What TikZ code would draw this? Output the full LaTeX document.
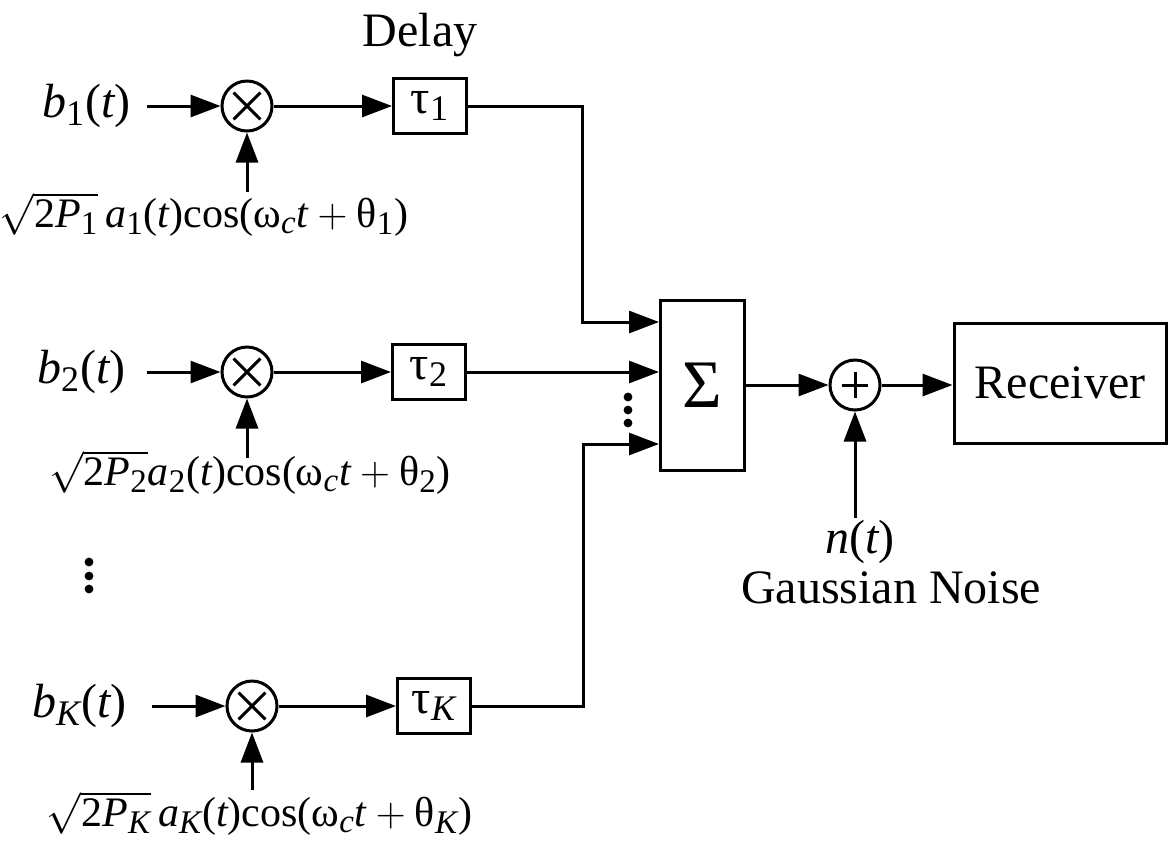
\documentclass[tikz,border=0pt]{standalone}
\usepackage{amsmath}
\usepackage{fontspec}
\setmainfont{Liberation Serif}
\usetikzlibrary{arrows.meta}
\DeclareMathSizes{24}{24}{18}{14}
\DeclareMathSizes{21}{21}{16.5}{12}
\newcommand{\ti}[1]{\text{\itshape #1}}
\newcommand{\tu}[1]{\text{\upshape #1}}
\begin{document}
\begin{tikzpicture}[x=0.5pt,y=-0.5pt, line width=1.5pt,
  >={Triangle[length=15pt,width=11pt]},
  txt/.style={font=\fontsize{24}{28}\selectfont, inner sep=0pt},
  ltxt/.style={font=\fontsize{21}{25}\selectfont, inner sep=0pt},
  mult/.style={circle, draw, minimum size=25pt, inner sep=0pt,
    path picture={
      \draw ([shift={(-6.7pt,-6.7pt)}]path picture bounding box.center) -- ([shift={(6.7pt,6.7pt)}]path picture bounding box.center);
      \draw ([shift={(-6.7pt,6.7pt)}]path picture bounding box.center) -- ([shift={(6.7pt,-6.7pt)}]path picture bounding box.center);}},
  adder/.style={circle, draw, minimum size=25pt, inner sep=0pt,
    path picture={
      \draw ([xshift=-6.7pt]path picture bounding box.center) -- ([xshift=6.7pt]path picture bounding box.center);
      \draw ([yshift=-6.7pt]path picture bounding box.center) -- ([yshift=6.7pt]path picture bounding box.center);}},
  dbox/.style={draw, minimum width=36.5pt, minimum height=27.5pt, inner sep=0pt, font=\fontsize{24}{28}\selectfont},
  dot/.style={radius=2.2pt}
]
\useasboundingbox (0,0) rectangle (1170,848);

% title
\node[txt, anchor=base] (delay) at (420,46) {Delay};

% multipliers
\node[mult] (m1) at (247,106) {};
\node[mult] (m2) at (247,372) {};
\node[mult] (mK) at (252,706) {};

% inputs b
\node[txt, anchor=east, inner xsep=7.5pt] (b1) at (147,106) {$\ti{b}_{\tu{1}}\tu{(}\ti{t}\tu{)}$};
\node[txt, anchor=east, inner xsep=10pt] (b2) at (147,372) {$\ti{b}_{\tu{2}}\tu{(}\ti{t}\tu{)}$};
\node[txt, anchor=east, inner xsep=12pt] (bK) at (152,706) {$\ti{b}_{\ti{K}}\tu{(}\ti{t}\tu{)}$};

% carrier labels
\node[ltxt, anchor=base] (l1) at (204,227) {$\sqrt{\tu{2}\ti{P}_{\tu{1}}}\,\ti{a}_{\tu{1}}\tu{(}\ti{t}\tu{)cos(}\text{ω}_{\ti{c}}\ti{t}+\text{θ}_{\tu{1}}\tu{)}$};
\node[ltxt, anchor=base] (l2) at (250,485) {$\sqrt{\tu{2}\ti{P}_{\tu{2}}}\ti{a}_{\tu{2}}\tu{(}\ti{t}\tu{)cos(}\text{ω}_{\ti{c}}\ti{t}+\text{θ}_{\tu{2}}\tu{)}$};
\node[ltxt, anchor=base] (lK) at (259.5,826) {$\sqrt{\tu{2}\ti{P}_{\ti{K}}}\,\ti{a}_{\ti{K}}\tu{(}\ti{t}\tu{)cos(}\text{ω}_{\ti{c}}\ti{t}+\text{θ}_{\ti{K}}\tu{)}$};
\coordinate (s1) at (247,192);
\coordinate (s2) at (247,458);
\coordinate (sK) at (252,790);

% delays
\node[dbox] (t1) at (430,106) {τ$_{\tu{1}}$};
\node[dbox] (t2) at (429,372) {τ$_{\tu{2}}$};
\node[dbox] (tK) at (434,706) {τ$_{\ti{K}}$};

% summer, adder, receiver
\node[draw, minimum width=42pt, minimum height=85pt, inner sep=0pt, font=\fontsize{34}{38}\selectfont] (s) at (702.5,385) {Σ};
\node[adder] (a) at (855,385) {};
\node[draw, minimum width=106pt, minimum height=60pt, inner sep=0pt, font=\fontsize{24}{28}\selectfont] (r) at (1060,383) {Receiver};

\coordinate (c1) at (582,322);
\coordinate (cK) at (583,444);
\coordinate (nz) at (855,518);

\node[txt, anchor=base] (nt) at (860,553) {$\ti{n}\tu{(}\ti{t}\tu{)}$};
\node[txt, anchor=base] (gn) at (891,603) {Gaussian Noise};

% connectors
\draw[->] (b1.east |- m1) -- (m1);
\draw[->] (b2.east |- m2) -- (m2);
\draw[->] (bK.east |- mK) -- (mK);
\draw[->] (s1) -- (m1);
\draw[->] (s2) -- (m2);
\draw[->] (sK) -- (mK);
\draw[->] (m1) -- (m1 -| t1.west);
\draw[->] (m2) -- (m2 -| t2.west);
\draw[->] (mK) -- (mK -| tK.west);
\draw[->] (t1.east) -| (c1) -- (c1 -| s.west);
\draw[->] (t2.east) -- (t2.east -| s.west);
\draw[->] (tK.east) -| (cK) -- (cK -| s.west);
\draw[->] (s) -- (a);
\draw[->] (a) -- (a -| r.west);
\draw[->] (nz) -- (a);

% dots
\fill (89,562) circle[dot];
\fill (89,576) circle[dot];
\fill (89,589) circle[dot];
\fill (628,397) circle[dot];
\fill (628,410) circle[dot];
\fill (628,423) circle[dot];
\end{tikzpicture}
\end{document}
